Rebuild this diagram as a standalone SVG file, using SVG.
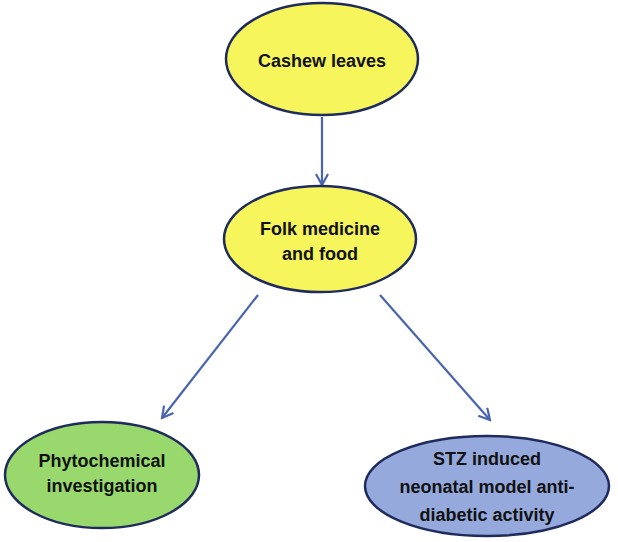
<svg xmlns="http://www.w3.org/2000/svg" width="618" height="542" viewBox="0 0 618 542">
<style>
.node{stroke:#1f2b5c;stroke-width:2.5}
.lbl{font-family:"Liberation Sans",Arial,sans-serif;font-weight:bold;font-size:18px;fill:#111;text-anchor:middle}
.conn{stroke:#4a65b0;stroke-width:2.2;fill:none}
</style>
<defs>
<marker id="arr" viewBox="0 0 14 14" refX="12" refY="7" markerWidth="14" markerHeight="14" markerUnits="userSpaceOnUse" orient="auto">
<path d="M1,1 L12,7 L1,13" fill="none" stroke="#4a65b0" stroke-width="2.2"/>
</marker>
</defs>
<rect width="618" height="542" fill="#fff"/>
<g id="connectors">
<line class="conn" x1="322" y1="117" x2="322" y2="185" marker-end="url(#arr)"/>
<line class="conn" x1="258" y1="295" x2="162" y2="418" marker-end="url(#arr)"/>
<line class="conn" x1="380" y1="295" x2="490" y2="420" marker-end="url(#arr)"/>
</g>
<g id="cashew">
<ellipse class="node" cx="322" cy="59" rx="96" ry="56" fill="#f6f55c"/>
<text class="lbl" x="322" y="67">Cashew leaves</text>
</g>
<g id="folk">
<ellipse class="node" cx="320" cy="239" rx="96" ry="53" fill="#f6f55c"/>
<text class="lbl" x="320" y="235">Folk medicine</text>
<text class="lbl" x="320" y="260">and food</text>
</g>
<g id="phyto">
<ellipse class="node" cx="102" cy="475" rx="97" ry="53" fill="#98d86c"/>
<text class="lbl" x="102" y="467">Phytochemical</text>
<text class="lbl" x="102" y="492">investigation</text>
</g>
<g id="stz">
<ellipse class="node" cx="487" cy="486" rx="122" ry="50" fill="#95a9dc"/>
<text class="lbl" x="487" y="465">STZ induced</text>
<text class="lbl" x="487" y="493">neonatal model anti-</text>
<text class="lbl" x="487" y="521">diabetic activity</text>
</g>
</svg>
